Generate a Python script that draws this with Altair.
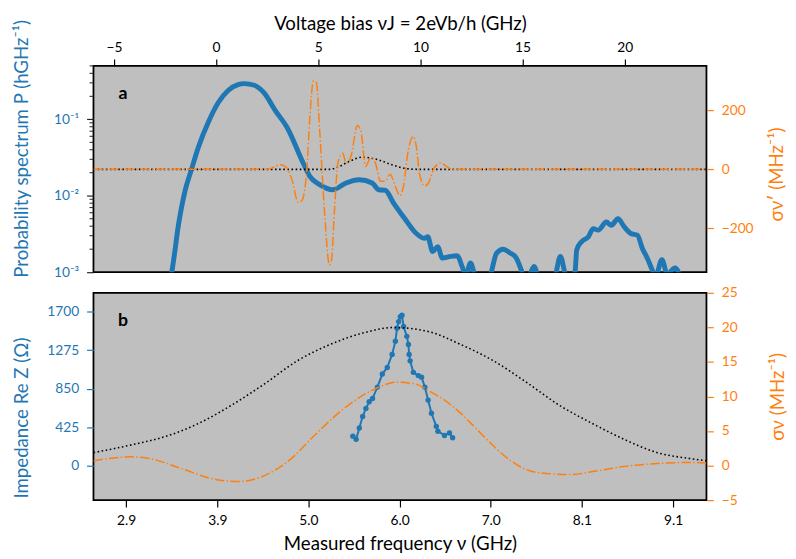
import altair as alt
import pandas as pd

BLUE = "#1f77b4"
ORANGE = "#ff7f0e"
FONT = "Lato"

# ---------------- Panel a (x: voltage bias nu_J in GHz) ----------------
a_blue_vj = [-2.30, -2.17, -1.82, -1.50, -1.21, -0.86, -0.38, 0.11, 0.59, 1.07,
             1.39, 1.87, 2.35, 2.91, 3.47, 4.27, 4.59, 5.07, 5.72, 6.36,
             7.00, 7.64, 7.96, 8.28, 8.68, 9.24, 9.72, 10.20, 10.36, 10.60,
             10.84, 11.08, 11.49, 11.80, 12.04, 12.22, 12.45, 12.70, 13.09, 13.42,
             13.73, 14.05, 14.37, 14.69, 14.93, 15.11, 15.35, 15.57, 15.78, 16.21,
             16.60, 16.85, 17.09, 17.32, 17.57, 17.65, 17.89, 18.22, 18.46, 18.70,
             19.10, 19.34, 19.67, 19.98, 20.30, 20.62, 20.86, 21.10, 21.34, 21.50,
             21.82, 22.08, 22.46, 22.62, 22.70]
a_blue_P = [0.00069, 0.00100, 0.0045, 0.0121, 0.0218, 0.0436, 0.0915, 0.166, 0.238, 0.284,
            0.293, 0.279, 0.222, 0.129, 0.0789, 0.0266, 0.0179, 0.0140, 0.0120, 0.0147,
            0.0162, 0.0147, 0.0120, 0.0118, 0.0081, 0.0050, 0.00337, 0.00277, 0.00291, 0.00186,
            0.00216, 0.00153, 0.00161, 0.00164, 0.00119, 0.00091, 0.00132, 0.00085, 0.00069, 0.00091,
            0.00178, 0.00200, 0.00180, 0.00153, 0.00108, 0.00081, 0.00093, 0.00119, 0.00086, 0.00070,
            0.00091, 0.00161, 0.00094, 0.00070, 0.00101, 0.00196, 0.00251, 0.00291, 0.00372, 0.00355,
            0.00453, 0.00411, 0.00501, 0.00391, 0.00321, 0.00305, 0.00206, 0.00153, 0.00108, 0.00086,
            0.00146, 0.00094, 0.00114, 0.00101, 0.00070]

a_orange_vj = [-6, 2.51, 3.15, 3.47, 3.71, 4.03, 4.19, 4.43, 4.59, 4.76,
               4.91, 5.07, 5.31, 5.55, 5.64, 5.79, 5.96, 6.20, 6.36, 6.60,
               6.92, 7.08, 7.32, 7.56, 7.80, 8.04, 8.28, 8.52, 8.76, 9.00,
               9.16, 9.40, 9.64, 9.80, 9.96, 10.20, 10.36, 10.68, 11.01, 11.25,
               11.56, 24]
a_orange_sigma = [0, 0, 15.4, 4.4, -34.6, -112.4, -106.6, -12.4, 176.6, 298.6,
                  293.4, 132, -145.6, -323.4, -312.4, -145.6, 21, 54.4, 21, 43.4,
                  148.6, 132, 10, 37.6, 21, -40, -40, -16.6, -55.6, -89,
                  -61.4, 61, 111, 77.6, -16.6, -55.6, -50, 5.4, 22, 11,
                  0, 0]

a_black_vj = [-6, 5.54, 5.96, 6.51, 7.16, 7.96, 8.60, 9.24, 9.87, 24]
a_black_sigma = [0, 0, 7.6, 26.6, 41, 32, 15.4, 3.4, 0, 0]

a_top_ticks = [-5, 0, 5, 10, 15, 20]
a_left_ticks = [0.001, 0.01, 0.1]
a_left_minor = [0.002, 0.003, 0.004, 0.005, 0.006, 0.007, 0.008, 0.009,
                0.02, 0.03, 0.04, 0.05, 0.06, 0.07, 0.08, 0.09,
                0.2, 0.3, 0.4, 0.5]
a_right_ticks = [-200, 0, 200]

# ---------------- Panel b (x: measured frequency nu in GHz) ----------------
b_blue_nu = [5.470, 5.507, 5.543, 5.581, 5.618, 5.655, 5.693, 5.748, 5.804, 5.860,
             5.915, 5.952, 5.971, 5.989, 6.008, 6.027, 6.045, 6.082, 6.100, 6.108,
             6.119, 6.156, 6.212, 6.249, 6.286, 6.323, 6.361, 6.416, 6.434, 6.509,
             6.565, 6.601]
b_blue_Z = [325, 290, 416, 542, 632, 705, 741, 868, 1012, 1085,
            1229, 1375, 1519, 1592, 1646, 1663, 1537, 1429, 1338, 1229,
            1158, 1031, 995, 976, 868, 724, 578, 434, 380, 333,
            361, 307]

b_black_nu = [2.530, 2.982, 3.354, 3.725, 4.096, 4.468, 4.839, 5.209, 5.581, 5.933,
              6.323, 6.695, 7.066, 7.437, 7.808, 8.179, 8.550, 8.921, 9.294, 9.479]
b_black_sigma = [1.87, 3.06, 4.24, 6.13, 8.75, 11.82, 15.15, 17.51, 19.17, 19.98,
                 19.41, 17.51, 15.15, 12.06, 8.75, 6.13, 3.77, 1.87, 1.01, 0.69]

b_orange_nu = [2.530, 2.945, 3.168, 3.539, 3.911, 4.170, 4.468, 4.764, 5.025, 5.395,
               5.766, 5.952, 6.175, 6.323, 6.509, 6.695, 6.880, 7.066, 7.288, 7.548,
               7.920, 8.254, 8.550, 8.922, 9.294, 9.479]
b_orange_sigma = [0.69, 1.26, 1.01, -0.49, -2.01, -2.30, -1.45, 0.93, 4.24, 8.51,
                  11.35, 12.06, 11.82, 10.88, 9.46, 7.55, 5.19, 2.82, 0.45, -0.98,
                  -1.30, -0.73, -0.12, 0.30, 0.45, 0.36]

b_freq_ticks = [2.9, 3.9333, 4.9667, 6.0, 7.0333, 8.0667, 9.1]
b_left_ticks = [0, 425, 850, 1275, 1700]
b_right_ticks = [-5, 0, 5, 10, 15, 20, 25]

# ---------------- scales ----------------
xa_scale = alt.Scale(domain=[-6, 24], nice=False, zero=False)
ya_log_scale = alt.Scale(type="log", domain=[0.001, 0.5], nice=False)
ya_r_scale = alt.Scale(domain=[-348, 350], nice=False, zero=False)
xb_scale = alt.Scale(domain=[2.529, 9.479], nice=False, zero=False)
yb_l_scale = alt.Scale(domain=[-382, 1910], nice=False, zero=False)
yb_r_scale = alt.Scale(domain=[-5, 25], nice=False, zero=False)

DASHDOT = [9.6, 2.4, 1.5, 2.4]
DOTTED = [1.6, 2.6]

# ---------------- panel a ----------------
df_a_blue = pd.DataFrame({"vj": a_blue_vj, "P": a_blue_P})
df_a_orange = pd.DataFrame({"vj": a_orange_vj, "s": a_orange_sigma})
df_a_black = pd.DataFrame({"vj": a_black_vj, "s": a_black_sigma})
df_a_minor = pd.DataFrame({"P": a_left_minor})

top_axis = alt.Axis(orient="top", values=a_top_ticks, format="d",
                    title="Voltage bias νJ = 2eVb/h (GHz)", labelPadding=5, titlePadding=7)
left_a_axis = alt.Axis(orient="left", values=a_left_ticks,
                       labelExpr="datum.value < 0.005 ? '10⁻³' : (datum.value < 0.05 ? '10⁻²' : '10⁻¹')",
                       title="Probability spectrum P (hGHz⁻¹)", titleColor=BLUE, labelColor=BLUE,
                       tickColor="#222222", titleX=-73, titleY=84, titleBaseline="middle",
                       labelPadding=8)
right_a_axis = alt.Axis(orient="right", values=a_right_ticks, format="d",
                        title="σν′ (MHz⁻¹)", titleColor=ORANGE, labelColor=ORANGE,
                        tickColor=ORANGE, titleAngle=270, titleBaseline="middle",
                        titleX=71, titleY=110, labelPadding=8)

blue_a = alt.Chart(df_a_blue).mark_line(color=BLUE, strokeWidth=5, clip=True,
                                        interpolate="monotone").encode(
    x=alt.X("vj:Q", scale=xa_scale, axis=top_axis),
    y=alt.Y("P:Q", scale=ya_log_scale, axis=left_a_axis),
)
minor_a = alt.Chart(df_a_minor).mark_rule(color="#222222", strokeWidth=1).encode(
    y=alt.Y("P:Q", scale=ya_log_scale, axis=left_a_axis),
    x=alt.value(-4), x2=alt.value(0),
)
black_a = alt.Chart(df_a_black).mark_line(color="black", strokeWidth=1.6, strokeDash=DOTTED,
                                          clip=True, interpolate="monotone").encode(
    x=alt.X("vj:Q", scale=xa_scale, axis=top_axis),
    y=alt.Y("s:Q", scale=ya_r_scale, axis=right_a_axis),
)
orange_a = alt.Chart(df_a_orange).mark_line(color=ORANGE, strokeWidth=1.5, strokeDash=DASHDOT,
                                            clip=True, interpolate="monotone").encode(
    x=alt.X("vj:Q", scale=xa_scale, axis=top_axis),
    y=alt.Y("s:Q", scale=ya_r_scale, axis=right_a_axis),
)
label_a = alt.Chart(pd.DataFrame({"t": ["a"]})).mark_text(
    font=FONT, fontSize=18, fontWeight="bold", align="center", baseline="alphabetic", color="black"
).encode(text="t:N", x=alt.value(30), y=alt.value(34))

panel_a = alt.layer(
    alt.layer(blue_a, minor_a),
    alt.layer(black_a, orange_a),
    label_a,
).resolve_scale(y="independent").properties(width=624, height=210)

# ---------------- panel b ----------------
df_b_blue = pd.DataFrame({"nu": b_blue_nu, "Z": b_blue_Z})
df_b_black = pd.DataFrame({"nu": b_black_nu, "s": b_black_sigma})
df_b_orange = pd.DataFrame({"nu": b_orange_nu, "s": b_orange_sigma})

bottom_axis = alt.Axis(orient="bottom", values=b_freq_ticks, format=".1f",
                       title="Measured frequency ν (GHz)", labelPadding=7, titlePadding=7)
left_b_axis = alt.Axis(orient="left", values=b_left_ticks, format="d",
                       title="Impedance Re Z (Ω)", titleColor=BLUE, labelColor=BLUE,
                       tickColor=BLUE, titleX=-73, titleY=127, titleBaseline="middle",
                       labelPadding=8)
right_b_axis = alt.Axis(orient="right", values=b_right_ticks, format="d",
                        title="σν (MHz⁻¹)", titleColor=ORANGE, labelColor=ORANGE,
                        tickColor=ORANGE, titleAngle=270, titleBaseline="middle",
                        titleX=72, labelPadding=8)

blue_b_line = alt.Chart(df_b_blue).mark_line(color=BLUE, strokeWidth=2).encode(
    x=alt.X("nu:Q", scale=xb_scale, axis=bottom_axis),
    y=alt.Y("Z:Q", scale=yb_l_scale, axis=left_b_axis),
)
blue_b_pts = alt.Chart(df_b_blue).mark_circle(color=BLUE, size=30, opacity=1).encode(
    x=alt.X("nu:Q", scale=xb_scale, axis=bottom_axis),
    y=alt.Y("Z:Q", scale=yb_l_scale, axis=left_b_axis),
)
black_b = alt.Chart(df_b_black).mark_line(color="black", strokeWidth=1.6, strokeDash=DOTTED,
                                          clip=True, interpolate="monotone").encode(
    x=alt.X("nu:Q", scale=xb_scale, axis=bottom_axis),
    y=alt.Y("s:Q", scale=yb_r_scale, axis=right_b_axis),
)
orange_b = alt.Chart(df_b_orange).mark_line(color=ORANGE, strokeWidth=1.5, strokeDash=DASHDOT,
                                            clip=True, interpolate="monotone").encode(
    x=alt.X("nu:Q", scale=xb_scale, axis=bottom_axis),
    y=alt.Y("s:Q", scale=yb_r_scale, axis=right_b_axis),
)
label_b = alt.Chart(pd.DataFrame({"t": ["b"]})).mark_text(
    font=FONT, fontSize=18, fontWeight="bold", align="center", baseline="alphabetic", color="black"
).encode(text="t:N", x=alt.value(30), y=alt.value(34))

panel_b = alt.layer(
    alt.layer(blue_b_line, blue_b_pts),
    alt.layer(black_b, orange_b),
    label_b,
).resolve_scale(y="independent").properties(width=624, height=211)

chart = alt.vconcat(panel_a, panel_b, spacing=21, bounds="flush").properties(
    padding={"left": 4, "right": 0, "top": 1, "bottom": 0}
).configure_view(
    fill="#bfbfbf", stroke="black", strokeWidth=1.8
).configure_axis(
    labelFont=FONT, titleFont=FONT, labelFontSize=14, titleFontSize=19,
    titleFontWeight="normal", grid=False, domain=False, tickSize=7, tickWidth=1.2,
    tickColor="black", labelColor="black", titleColor="black"
)

chart.save("out.html", embed_options={"renderer": "svg", "actions": False})
